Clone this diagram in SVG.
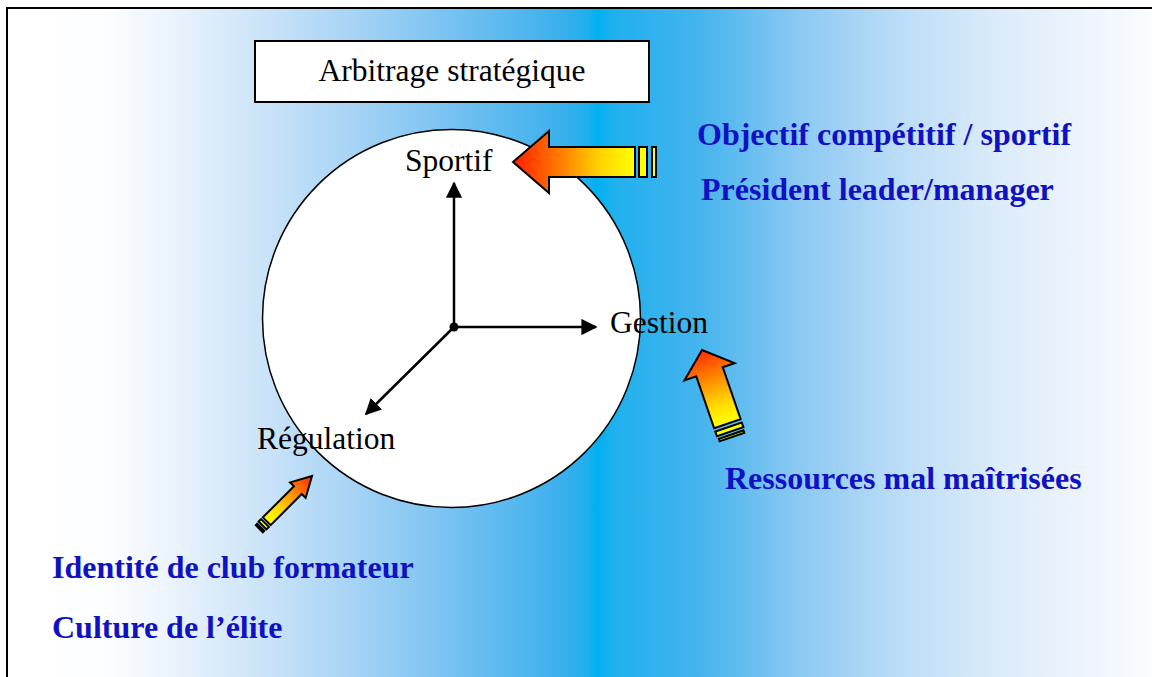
<svg xmlns="http://www.w3.org/2000/svg" width="1152" height="677" viewBox="0 0 1152 677">
<defs>
<linearGradient id="bg" gradientUnits="userSpaceOnUse" x1="7" y1="0" x2="1152" y2="0">
<stop offset="0" stop-color="#FFFFFF"/>
<stop offset="0.08" stop-color="#FDFEFF"/>
<stop offset="0.13" stop-color="#F0F6FD"/>
<stop offset="0.212" stop-color="#D0E6F9"/>
<stop offset="0.30" stop-color="#A8D4F5"/>
<stop offset="0.387" stop-color="#78C2F1"/>
<stop offset="0.483" stop-color="#3CB0EC"/>
<stop offset="0.508" stop-color="#1DAFEE"/>
<stop offset="0.515" stop-color="#00B0F0"/>
<stop offset="0.53" stop-color="#20B0EE"/>
<stop offset="0.605" stop-color="#45B4ED"/>
<stop offset="0.693" stop-color="#8CC9F3"/>
<stop offset="0.78" stop-color="#BCDDF7"/>
<stop offset="0.867" stop-color="#DCECFA"/>
<stop offset="0.94" stop-color="#EEF4FD"/>
<stop offset="1" stop-color="#FAFCFF"/>
</linearGradient>
<linearGradient id="gTop" gradientUnits="userSpaceOnUse" x1="513" y1="0" x2="635" y2="0">
<stop offset="0" stop-color="#FF1E00"/>
<stop offset="0.4" stop-color="#FF8000"/>
<stop offset="0.7" stop-color="#FFD000"/>
<stop offset="1" stop-color="#FFFF00"/>
</linearGradient>
<linearGradient id="gRight" gradientUnits="userSpaceOnUse" x1="0" y1="0" x2="0" y2="78">
<stop offset="0" stop-color="#FF2A00"/>
<stop offset="0.4" stop-color="#FF8C00"/>
<stop offset="0.75" stop-color="#FFDD00"/>
<stop offset="1" stop-color="#FFFF00"/>
</linearGradient>
<linearGradient id="gLeft" gradientUnits="userSpaceOnUse" x1="0" y1="0" x2="0" y2="64">
<stop offset="0" stop-color="#FF2A00"/>
<stop offset="0.4" stop-color="#FF8C00"/>
<stop offset="0.75" stop-color="#FFDD00"/>
<stop offset="1" stop-color="#FFFF00"/>
</linearGradient>
<marker id="ah" viewBox="0 0 10 10" refX="9" refY="5" markerWidth="6.5" markerHeight="6.5" markerUnits="strokeWidth" orient="auto">
<path d="M0,0 L10,5 L0,10 Z" fill="#000"/>
</marker>
</defs>
<style>
.serif{font-family:"Liberation Serif","Times New Roman",serif;font-size:31.5px;fill:#000}
.blue{font-family:"Liberation Serif","Times New Roman",serif;font-size:32px;font-weight:bold;fill:#1111C4}
.fat{stroke:#000;stroke-width:2;stroke-linejoin:miter}
.stripe{fill:#FFFF00;stroke:#000;stroke-width:2}
.axis{stroke:#000;stroke-width:2.5;fill:none}
</style>

<rect x="7" y="8" width="1160" height="690" fill="url(#bg)" stroke="#000" stroke-width="2"/>

<g id="title">
<rect x="255" y="41" width="394" height="61" fill="#FFFFFF" stroke="#000" stroke-width="2"/>
<text class="serif" x="452" y="81" text-anchor="middle">Arbitrage stratégique</text>
</g>

<g id="circle">
<circle cx="451.5" cy="318.5" r="189" fill="#FFFFFF" stroke="#000" stroke-width="1.5"/>
</g>

<g id="connectors">
<line class="axis" x1="454" y1="327" x2="454" y2="183" marker-end="url(#ah)"/>
<line class="axis" x1="454" y1="327" x2="596" y2="327" marker-end="url(#ah)"/>
<line class="axis" x1="454" y1="327" x2="366" y2="414" marker-end="url(#ah)"/>
<circle cx="454" cy="327" r="4.5" fill="#000"/>
</g>

<g id="sportif">
<text class="serif" x="405" y="171">Sportif</text>
</g>
<g id="gestion">
<text class="serif" x="610" y="333">Gestion</text>
</g>
<g id="regulation">
<text class="serif" x="257" y="449">Régulation</text>
</g>

<g id="arrow-top">
<path class="fat" d="M513,162 L549,131 L549,147 L635,147 L635,177 L549,177 L549,193 Z" fill="url(#gTop)"/>
<rect class="stripe" x="639" y="147" width="8" height="30"/>
<rect class="stripe" x="652" y="147" width="4" height="30"/>
</g>

<g id="arrow-right" transform="translate(702,350) rotate(-19)">
<path class="fat" d="M0,0 L26.5,23 L14,23 L14,78 L-14,78 L-14,23 L-26.5,23 Z" fill="url(#gRight)"/>
<rect class="stripe" x="-14" y="81.5" width="28" height="5"/>
<rect class="stripe" x="-13" y="89.5" width="26" height="2.5"/>
</g>

<g id="arrow-left" transform="translate(312,476) rotate(45)">
<path class="fat" d="M0,0 L11,20 L5.5,20 L5.5,64 L-5.5,64 L-5.5,20 L-11,20 Z" fill="url(#gLeft)"/>
<rect class="stripe" x="-5.5" y="66.5" width="11" height="3.5"/>
<rect class="stripe" x="-5" y="72.5" width="10" height="2"/>
</g>

<g id="label-objectif">
<text class="blue" x="697" y="145">Objectif compétitif / sportif</text>
</g>
<g id="label-president">
<text class="blue" x="701" y="200">Président leader/manager</text>
</g>
<g id="label-ressources">
<text class="blue" x="725" y="489">Ressources mal maîtrisées</text>
</g>
<g id="label-identite">
<text class="blue" x="52" y="578">Identité de club formateur</text>
</g>
<g id="label-culture">
<text class="blue" x="52" y="638">Culture de l’élite</text>
</g>
</svg>
